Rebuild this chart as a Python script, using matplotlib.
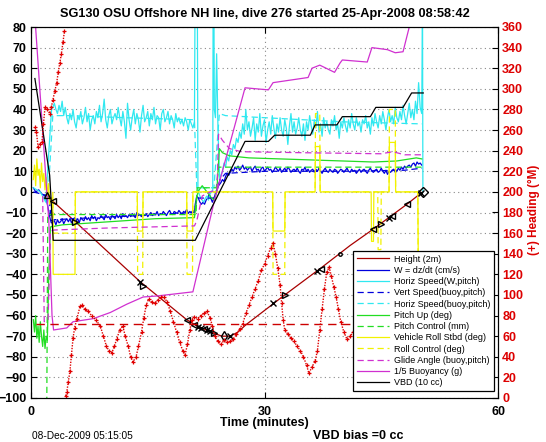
import numpy as np
import matplotlib
matplotlib.use("Agg")
import matplotlib.pyplot as plt

plt.rcParams['font.family'] = ['Liberation Sans', 'DejaVu Sans']

# ---- data (time in minutes) ----
title = "SG130 OSU Offshore NH line, dive 276 started 25-Apr-2008 08:58:42"

# sample grids for the noisy dive / climb records
dive_t = np.arange(2.8, 21.0001, 0.2)
climb_t = np.arange(24.4, 50.0001, 0.2)

# Height (2m)
ht_t = [2.0, 2.8, 5.7, 14.0, 20.0, 21.3, 22.5, 23.5, 24.5, 25.6, 26.6, 27.6, 32.6, 37.4, 41.0, 44.0, 46.5, 48.3, 50.3]
ht_v = [-1.5, -4.5, -14.5, -43.5, -62, -65, -67, -68.5, -70, -70, -68, -64.5, -50, -36.5, -26, -18, -11, -6, 0]
# black marks sitting on the height trace
mk_t = [2.0, 2.8, 5.7, 14.0, 14.4, 20.0, 21.0, 21.4, 21.8, 22.2, 22.6, 23.0, 23.5, 24.8, 25.6, 31.1, 32.6, 36.8, 37.2, 39.7, 44.0, 45.0, 46.0, 46.4, 48.3, 50.1, 50.3]
mk_v = [-1.5, -4.5, -14.5, -43.5, -45.5, -62, -64.5, -65.5, -66, -66.5, -67, -67.5, -68.5, -70, -70, -54, -50, -38.5, -37.5, -30, -18, -15.5, -12.5, -11.5, -6, -0.5, 0]
mk_s = ['^', '<', '>', 'x', '>', '<', '<', 'x', 'x', '<', 'x', 'x', '>', 'd', 'x', 'x', '>', 'x', '<', '.', '<', '>', 'x', '<', '<', 'x', 'D']

# W = dz/dt
w_t0 = [0.3, 0.6, 1.0, 1.4, 1.8, 2.0, 2.2, 2.4, 2.6]
w_v0 = [2, 0, 1, -1, -2, -4, -8, -12, -15]
w_dive = [-15, -14, -16, -13.5, -15, -14.5, -13, -15.5, -14, -13,
          -14.5, -13, -15, -13.5, -12.5, -14, -13, -15, -12.5, -13.5,
          -14, -12, -13.5, -12.5, -14, -11.5, -13, -12, -14, -12.5,
          -13, -11.5, -12.5, -13.5, -11, -12.5, -12, -13.5, -11.5, -12,
          -13, -11, -12.5, -11.5, -13, -10.5, -12, -11.5, -12.5, -11,
          -12, -10.5, -11.5, -12.5, -10, -11.5, -11, -12, -10.5, -11.5,
          -10.5, -12, -11, -10, -11.5, -10.5, -11, -9.5, -11.5, -10.5,
          -11, -9.5, -10.5, -11.5, -10, -9, -10.5, -11, -9.5, -10,
          -10.5, -9, -10, -11, -9.5, -10, -8.5, -10.5, -9.5, -10,
          -9, -10]
w_t1 = [21.1, 21.3, 21.5, 21.7, 21.9, 22.1, 22.3, 22.5, 22.7, 22.9, 23.1, 23.3, 23.5, 23.7, 23.9, 24.1, 24.3]
w_v1 = [-6, -2, -3, -5, -6, -5, -6, -4, -3, -1, -3, -5, -3, -1, 1, 3, 4]
w_climb = [4.5, 6, 5, 7.5, 9, 8, 9.5, 11, 10, 12,
           11, 12.5, 10.5, 11.5, 13, 11, 12, 10.5, 11.5, 12,
           10, 11.5, 12.5, 10.5, 11, 9.5, 11.5, 12, 10, 11,
           12, 10.5, 11, 9.5, 10.5, 12, 11, 10, 11.5, 9.5,
           10.5, 11.5, 10, 12, 11, 9.5, 10.5, 11, 10, 11.5,
           10, 9, 11, 10.5, 12, 10, 11, 9.5, 10.5, 11,
           9.5, 11, 10, 11.5, 10, 9, 10.5, 11.5, 10, 9.5,
           11, 10, 9.5, 11, 10.5, 9, 10, 11, 10.5, 9.5,
           10.5, 11.5, 10, 9.5, 11, 10, 10.5, 9, 10, 11,
           9.5, 10.5, 11, 10, 9, 10.5, 11.5, 10, 9.5, 10.5,
           11, 9.5, 10, 11.5, 10, 9, 10.5, 8.5, 10, 9.5,
           10.5, 11, 9.5, 10, 11.5, 10.5, 12, 11, 12.5, 11.5,
           12.5, 13, 12, 13.5, 14, 12.5, 14.5, 13.5, 14]
w_t2 = [50.2]
w_v2 = [13]

# Horiz Speed (W,pitch)
hs_t0 = [0.3, 1.2, 1.9, 2.1, 2.3, 2.5, 2.65]
hs_v0 = [2, 0, -5, 8, 20, 32, 40]
hs_dive = [41, 43, 40, 38, 42, 39, 44, 37, 41, 36,
           33, 38, 35, 40, 34, 31, 37, 35, 39, 33,
           36, 41, 34, 38, 30, 35, 37, 33, 39, 36,
           42, 34, 38, 45, 35, 31, 37, 40, 33, 36,
           38, 35, 41, 36, 32, 39, 34, 26, 43, 35,
           30, 36, 40, 33, 38, 35, 29, 37, 42, 34,
           36, 39, 32, 38, 35, 41, 33, 37, 36, 30,
           38, 40, 34, 36, 39, 33, 37, 35, 31, 38,
           34, 36, 33, 35, 32, 36, 34, 30, 35, 33,
           31, 34]
hs_t1 = [21.08, 21.37, 21.45, 21.6, 21.8, 22.0, 22.2, 22.4, 22.6, 22.8, 23.0, 23.2, 23.35, 23.4, 23.5, 23.55, 23.7, 23.85, 24.0, 24.1, 24.25]
hs_v1 = [95, 95, 1, -1, -3, -4, -5, -3, -2, -4, -1, 0, 1, 95, 95, 40, 36, 67, 35, 20, 6]
hs_climb = [8, 10, 14, 12, 17, 15, 20, 18, 23, 21,
            26, 24, 29, 26, 33, 28, 40, 30, 34, 27,
            31, 36, 25, 33, 29, 38, 27, 32, 35, 24,
            30, 34, 28, 37, 31, 26, 33, 29, 36, 30,
            27, 35, 31, 23, 32, 38, 29, 34, 28, 31,
            36, 30, 27, 33, 25, 34, 30, 37, 32, 28,
            35, 31, 39, 29, 33, 27, 36, 31, 34, 30,
            28, 35, 32, 37, 30, 33, 26, 34, 31, 36,
            32, 29, 35, 31, 38, 33, 30, 36, 32, 34,
            29, 35, 33, 37, 31, 34, 28, 36, 32, 38,
            34, 31, 37, 33, 39, 35, 30, 36, 40, 34,
            37, 33, 41, 36, 34, 39, 35, 42, 37, 33,
            38, 43, 36, 40, 35, 44, 38, 53, 41]
hs_t2 = [50.2, 50.3, 50.35]
hs_v2 = [38, 95, 0]

# Vert Speed (buoy,pitch)
vb_t = [0.3, 2.3, 2.6, 3.0, 8, 14, 21.0, 21.3, 23.5, 24.3, 25, 30, 40, 48, 50.2]
vb_v = [0, -2, -14, -13.5, -12.5, -11.5, -10, -3, -3, 6, 9, 10, 10, 10.5, 11.5]

# Horiz Speed (buoy,pitch)
hb_t = [2.3, 2.8, 5, 12, 21, 21.3, 23.5, 24.2, 25, 30, 40, 50.2]
hb_v = [5, 37, 37, 36, 35, 2, 2, 38, 37, 36, 34, 33]

# Pitch Up (deg)
pu_t = [0.3, 0.45, 0.6, 0.75, 0.9, 1.05, 1.2, 1.35, 1.5, 1.65, 1.8, 1.95, 2.1, 2.3, 2.5, 4, 8, 12, 16, 21.0,
        21.3, 21.6, 22.0, 22.4, 22.8, 23.2, 23.6, 23.9, 24.2, 24.6, 25.5, 28, 32, 36, 40, 44, 47, 49.5, 50.2]
pu_v = [-62, -68, -60, -71, -65, -73, -63, -70, -75, -67, -76, -70, -72, -38, -17, -16, -15, -14, -13, -12.5,
        -2, 1, 3, 1, -1, -3, -4, 2, 21, 19, 17.5, 16.5, 16, 15.5, 15, 14.5, 15, 16.5, 16]

# Pitch Control (mm)
pc_t = [2.0, 2.15, 21.2, 21.35, 23.8, 24.1, 50.2]
pc_v = [-125, -11, -11, 2, 2, 12, 12]

# Vehicle Roll Stbd (deg)
rl_t = [0.3, 0.45, 0.6, 0.75, 0.9, 1.05, 1.2, 1.35, 1.5, 1.65, 1.8, 1.95, 2.1, 2.25, 2.4, 2.6,
        2.8, 2.85, 5.65, 5.7, 13.65, 13.7, 14.35, 14.4, 20.0, 20.05, 20.75, 20.8, 31.05, 31.1, 32.6, 32.65,
        36.5, 36.55, 37.1, 37.15, 43.7, 43.75, 44.0, 44.05, 46.0, 46.05, 46.8, 46.85, 49.7, 49.75, 50.3]
rl_v = [6, 13, 3, 16, 8, 11, 2, 14, 5, 9, 1, 7, -2, 4, -6, -3,
        -3, -40, -40, 0, 0, -19, -19, 0, 0, -19, -19, 0, 0, -19, -19, 0,
        0, 22, 22, 0, 0, -24, -24, 0, 0, 24, 24, 0, 0, -30, -30]

# Roll Control (deg)
rc_t = [2.8, 2.85, 5.65, 5.7, 13.65, 13.7, 14.35, 14.4, 20.0, 20.05, 20.75, 20.8, 31.05, 31.1, 32.6, 32.65,
        36.5, 36.55, 37.1, 37.15, 44.55, 44.6, 44.95, 45.0, 46.0, 46.05, 46.8, 46.85, 49.7, 49.75, 50.3]
rc_v = [0, -20, -20, 0, 0, -40, -40, 0, 0, -40, -40, 0, 0, -40, -40, 0,
        0, 38, 38, 0, 0, -28, -28, 0, 0, 40, 40, 0, 0, -40, -40]

# Glide Angle (buoy,pitch)
ga_t = [1.5, 1.7, 2.2, 2.5, 3.0, 10, 21.0, 21.3, 22, 23, 23.9, 24.1, 24.6, 25.5, 27, 35, 45, 46.5, 48, 50.2]
ga_v = [-2, -63, -62, -19, -18.5, -17.5, -16.5, -14, -2, 0, 1, 28, 25, 21, 19.5, 19, 18.5, 19.5, 18, 18]

# 1/5 Buoyancy (g)
by_t = [0.5, 2.3, 2.7, 2.9, 4.6, 5.4, 8.0, 10.2, 12.3, 14.4, 16.2, 20.8, 23.6, 27.5, 30.5, 31.1, 35.6, 36.1,
        37.1, 39.0, 39.7, 40.0, 43.2, 43.8, 45.8, 46.8, 47.8, 48.6, 50.4]
by_v = [85, -15, -60, -67, -66, -63, -61.5, -58.5, -54.5, -51, -50.5, -48.5, -3.7, 50.5, 49.5, 53, 55.5, 60,
        61.5, 58, 62.5, 64, 63, 70, 69, 67.5, 68, 80, 80]

# VBD (10 cc)
vbd_t = [0.5, 2.4, 2.6, 2.85, 21.1, 27.5, 30.5, 31.3, 35.9, 36.5, 39.3, 40.0, 43.6, 44.3, 47.8, 48.9, 50.4]
vbd_v = [55, 8, -5, -23.5, -23.5, 24.5, 24.5, 27.5, 27.5, 32.5, 32.5, 36.5, 36.5, 41, 41, 48, 48]

# Heading (deg M), right axis; nan marks the 360 -> 0 wrap
head_t = [0.5, 0.7, 0.9, 1.1, 1.4, 1.6, 1.8, 2.1, 2.4, 2.6, 2.8, 3.05, 3.3, 3.5, 3.7, 3.9, 4.1, 4.3, 4.4,
          4.45, 4.6, 4.8, 5.0, 5.2, 5.4, 5.6, 5.9, 6.3, 6.6, 6.9, 7.3, 7.8, 8.3, 8.9, 9.3, 9.7, 10.0, 10.4,
          10.7, 11.0, 11.4, 11.8, 12.1, 12.5, 12.8, 13.1, 13.5, 13.8, 14.2, 14.5, 14.8, 15.1, 15.5, 15.9,
          16.3, 16.7, 17.1, 17.5, 17.9, 18.3, 18.7, 19.1, 19.5, 19.8, 20.1, 20.4, 20.7, 21.0, 21.4, 21.8,
          22.2, 22.6, 23.0, 23.3, 23.6, 24.0, 24.4, 24.8, 25.2, 25.6, 26.0, 26.4, 26.8, 27.2, 27.6, 28.0,
          28.4, 28.8, 29.2, 29.6, 30.0, 30.4, 30.8, 31.1, 31.4, 31.7, 32.0, 32.2, 32.4, 32.6, 33.0, 33.4,
          33.8, 34.2, 34.6, 35.0, 35.4, 35.7, 36.1, 36.5, 36.8, 37.1, 37.4, 37.7, 38.0, 38.3, 38.6, 38.9,
          39.2, 39.5, 39.8, 40.2, 40.6, 41.0, 41.4, 41.8, 42.4, 43.0, 44.0, 45.0, 46.0, 47.0, 48.0, 49.0, 50.0]
head_deg = [263, 258, 244, 246, 248, 266, 282, 280, 276, 282, 289, 298, 306, 316, 325, 334, 345, 356, np.nan,
            2, 6, 16, 26, 42, 58, 68, 77, 89, 90, 86, 84, 80, 76, 70, 60, 50, 46, 44,
            50, 57, 66, 70, 60, 50, 40, 35, 40, 50, 64, 78, 90, 96, 93, 92,
            95, 98, 98, 93, 84, 74, 64, 54, 46, 42, 52, 66, 76, 79, 77, 80,
            82, 84, 78, 70, 60, 55, 52, 56, 54, 55, 57, 62, 67, 72, 82, 90,
            98, 106, 114, 124, 130, 138, 146, 150, 140, 126, 110, 92, 76, 66, 62, 58,
            55, 50, 46, 40, 32, 24, 30, 36, 46, 66, 86, 106, 122, 127, 118, 108,
            98, 86, 74, 64, 57, 60, 64, 70, 66, 60, 58, 65, 70, 66, 62, 68, 72]
target_heading = 72

labels = ['Height (2m)', 'W = dz/dt (cm/s)', 'Horiz Speed(W,pitch)', 'Vert Speed(buoy,pitch)',
          'Horiz Speed(buoy,pitch)', 'Pitch Up (deg)', 'Pitch Control (mm)', 'Vehicle Roll Stbd (deg)',
          'Roll Control (deg)', 'Glide Angle (buoy,pitch)', '1/5 Buoyancy (g)', 'VBD (10 cc)']

# ---- assemble the noisy records ----
w_t = np.concatenate([w_t0, dive_t, w_t1, climb_t, w_t2])
w_v = np.concatenate([w_v0, w_dive, w_v1, w_climb, w_v2])
hs_t = np.concatenate([hs_t0, dive_t, hs_t1, climb_t, hs_t2])
hs_v = np.concatenate([hs_v0, hs_dive, hs_v1, hs_climb, hs_v2])

# ---- plot ----
fig = plt.figure(figsize=(5.46, 4.42), dpi=100)
ax = fig.add_axes([31 / 546, 44 / 442, 467 / 546, 371 / 442])

c_red = '#a80000'
c_blue = '#0000dd'
c_cyan = '#30e8f0'
c_green = '#22dd22'
c_yellow = '#f2f200'
c_mag = '#d030d0'
lw = 0.9
dash = (0, (5, 3))

h = []
h += ax.plot(ht_t, ht_v, color=c_red, lw=lw)
h += ax.plot(w_t, w_v, color=c_blue, lw=lw)
h += ax.plot(hs_t, hs_v, color=c_cyan, lw=lw)
h += ax.plot(vb_t, vb_v, color=c_blue, lw=lw, ls=dash)
h += ax.plot(hb_t, hb_v, color=c_cyan, lw=lw, ls=dash)
h += ax.plot(pu_t, pu_v, color=c_green, lw=lw)
h += ax.plot(pc_t, pc_v, color=c_green, lw=lw, ls=dash)
h += ax.plot(rl_t, rl_v, color=c_yellow, lw=lw)
h += ax.plot(rc_t, rc_v, color=c_yellow, lw=lw, ls=dash)
h += ax.plot(ga_t, ga_v, color=c_mag, lw=lw, ls=dash)
h += ax.plot(by_t, by_v, color=c_mag, lw=lw)
h += ax.plot(vbd_t, vbd_v, color='black', lw=lw)

for t, v, s in zip(mk_t, mk_v, mk_s):
    ax.plot(t, v, marker=s, color='black', mfc='none', ms=5, mew=1.0)

ax.set_xlim(0, 60)
ax.set_ylim(-100, 80)
ax.set_xticks([0, 30, 60])
ax.set_yticks(np.arange(-100, 81, 10))
ax.grid(True, linestyle=(0, (1, 3)), color='#888888', lw=0.8)
ax.tick_params(direction='in', top=True, length=4, labelsize=9, pad=3)
ax.tick_params(axis='x', pad=6)
for lab in ax.get_xticklabels() + ax.get_yticklabels():
    lab.set_fontweight('bold')

ax2 = ax.twinx()
ax2.plot(head_t, head_deg, color='#e00000', ls=(0, (1, 1)), lw=1.0,
         marker='+', ms=3.5, mew=0.9)
ax2.hlines(target_heading, head_t[1], w_t[-1], colors='#cc0000', linestyles=(0, (6, 4)), lw=1.0)
ax2.set_ylim(0, 360)
ax2.set_yticks(np.arange(0, 361, 20))
ax2.tick_params(direction='in', length=4, labelsize=9, pad=3, colors='black', labelcolor='#dd0000')
for lab in ax2.get_yticklabels():
    lab.set_fontweight('bold')

leg = ax2.legend(h, labels, loc='lower right', bbox_to_anchor=(0.9914, 0.0189), borderaxespad=0,
                 fontsize=6.5, handlelength=3.5, handletextpad=0.6, labelspacing=0.25,
                 borderpad=0.4, fancybox=False, framealpha=1, edgecolor='black')
leg.get_frame().set_linewidth(0.9)

fig.text(264.5 / 546, 1 - 14 / 442, title, ha='center', va='center', fontsize=9.2, fontweight='bold')
fig.text(264.5 / 546, 1 - 423 / 442, 'Time (minutes)', ha='center', va='center', fontsize=9, fontweight='bold')
fig.text(32 / 546, 1 - 436 / 442, '08-Dec-2009 05:15:05', ha='left', va='center', fontsize=7.3)
fig.text(313 / 546, 1 - 436 / 442, 'VBD bias =0 cc', ha='left', va='center', fontsize=9, fontweight='bold')
fig.text(534 / 546, 1 - 210 / 442, '(+) Heading (°M)', ha='center', va='center', rotation=90,
         fontsize=8.5, fontweight='bold', color='#dd0000')

fig.savefig('out.png', dpi=100)
